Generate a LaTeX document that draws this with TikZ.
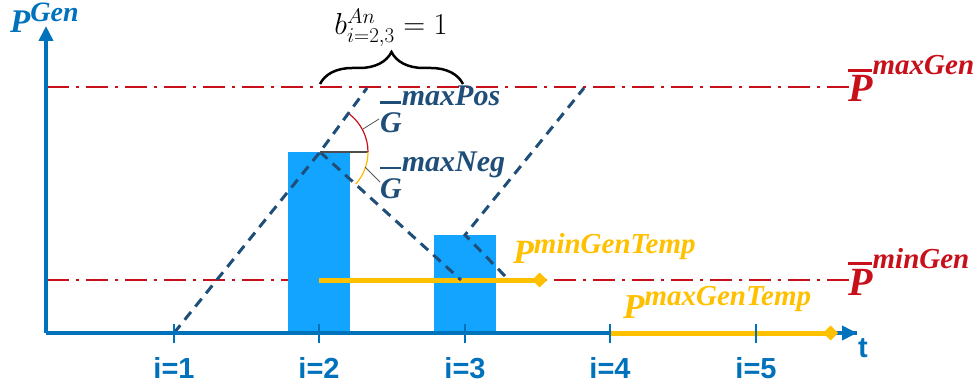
\documentclass[tikz,border=0pt]{standalone}
\usepackage{graphicx}
\usepackage[no-math]{fontspec}
\setmainfont{Liberation Sans}
\newfontfamily\labfont{Liberation Serif}
\usetikzlibrary{arrows.meta,decorations.pathreplacing}
\definecolor{axisblue}{RGB}{0,114,188}
\definecolor{barblue}{RGB}{18,164,255}
\definecolor{navy}{RGB}{31,78,121}
\definecolor{lred}{RGB}{200,16,26}
\definecolor{lyellow}{RGB}{255,192,0}
\newcommand{\fsz}[1]{\fontsize{#1}{#1}\selectfont}
\begin{document}
\begin{tikzpicture}[x=1pt,y=-1pt,
  axis/.style={axisblue,line width=4pt},
  ticks/.style={axisblue,line width=2pt},
  ilabel/.style={axisblue,anchor=base,font=\fsz{29}\bfseries,inner sep=0pt},
  limit/.style={lred,line width=2.5pt,dash pattern=on 22pt off 7pt on 3pt off 7pt},
  ramp/.style={navy,line width=3pt,dash pattern=on 10pt off 7pt},
  barbox/.style={fill=barblue,draw=none},
  temp/.style={lyellow,line width=5pt,-{Turned Square[width=15pt,length=15pt]}},
  leader/.style={black!65,line width=0.8pt},
  mlabel/.style={anchor=base west,inner sep=0pt,font=\labfont\bfseries\itshape}]
\useasboundingbox (0,0) rectangle (980,385);

% coordinates
\coordinate (O) at (46,333);
\coordinate (Ytop) at (46,26);
\coordinate (Xend) at (857,333);
\foreach \n/\x in {1/174,2/319,3/465,4/610,5/756}{
  \coordinate (t\n) at (\x,333);
  \coordinate (ta\n) at (\x,324);
  \coordinate (tb\n) at (\x,343);
}
\coordinate (maxA) at (47,87);
\coordinate (maxB) at (849,87);
\coordinate (minA) at (47,280);
\coordinate (minB) at (849,280);

% limit lines
\draw[limit] (maxA) -- (maxB);
\draw[limit] (minA) -- (minB);

% bars
\fill[barbox] (288,333) rectangle (350,152) coordinate (bar1);
\fill[barbox] (434,333) rectangle (496,235) coordinate (bar2);

% yellow temp lines
\coordinate (y1a) at (319,280);
\coordinate (y1b) at (547,280);
\coordinate (y2a) at (610,333);
\coordinate (y2b) at (838,333);
\draw[temp] (y1a) -- (y1b);

% ramps
\coordinate (r1a) at (174,333);
\coordinate (pk1) at (320,152);
\coordinate (r1b) at (367,88);
\coordinate (r2b) at (461,280);
\coordinate (pk2) at (465,235);
\coordinate (r3a) at (505,276);
\coordinate (r3b) at (584,88);
\draw[ramp] (r1a) -- (pk1) -- (r1b);
\draw[ramp] (pk1) -- (r2b);
\draw[ramp] (r3a) -- (pk2) -- (r3b);

% angle arcs
\coordinate (arcE) at (368,152);
\draw[black!70,line width=1.5pt] (pk1) -- (arcE);
\draw[lred,line width=1.2pt] (arcE) arc[start angle=0,end angle=-52,radius=48];
\draw[lyellow!90!orange,line width=1.2pt] (arcE) arc[start angle=0,end angle=42,radius=48];
\coordinate (l1a) at (363,129); \coordinate (l1b) at (379,119);
\coordinate (l2a) at (365,167); \coordinate (l2b) at (380,182);
\draw[leader] (l1a) -- (l1b);
\draw[leader] (l2a) -- (l2b);

% axes
\draw[axis] (O) -- (Xend);
\draw[axis,-{Triangle[length=15pt,width=14pt]}] (O) -- (Ytop);
\draw[axis,-{Triangle[length=15pt,width=14pt]}] (O) -- (Xend);
\draw[temp] (y2a) -- (y2b);
\foreach \n in {1,...,5}{
  \draw[ticks] (ta\n) -- (tb\n);
}
\foreach \n/\x in {1/174,2/319,3/465,4/610,5/756}{
  \node[ilabel] (il\n) at (\x,378) {i=\n};
}
\node[ilabel] (tl) at (863,357) {t};

% brace
\coordinate (brA) at (320,84);
\coordinate (brB) at (463,84);
\draw[black,line width=2.5pt,decorate,decoration={brace,amplitude=32pt}] (brA) -- (brB);
\node[anchor=base,inner sep=0pt] (blabel) at (391,35) {\scalebox{1.22}{\fsz{24}$b^{An}_{i=2,3}=1$}};

% labels
\node[mlabel,axisblue] (pgen) at (10,33) {\fsz{33}P\raisebox{11pt}{\fsz{28}Gen}};
\node[mlabel,navy] (gpos) at (380,133) {\fsz{30}\rlap{\rule[29pt]{21pt}{2.5pt}}G\raisebox{27pt}{maxPos}};
\node[mlabel,navy] (gneg) at (380,198) {\fsz{30}\rlap{\rule[29pt]{21pt}{2.5pt}}G\raisebox{27pt}{maxNeg}};
\node[mlabel,lred] (pmax) at (848,102) {\fsz{40}\rlap{\rule[30pt]{24pt}{3pt}}P\raisebox{27pt}{\fsz{29}maxGen}};
\node[mlabel,lred] (pmin) at (848,295) {\fsz{40}\rlap{\rule[30pt]{24pt}{3pt}}P\raisebox{27pt}{\fsz{29}minGen}};
\node[mlabel,lyellow] (pmint) at (513,263) {\fsz{34}P\raisebox{10pt}{\fsz{29}minGenTemp}};
\node[mlabel,lyellow] (pmaxt) at (623,318) {\fsz{35}P\raisebox{13pt}{\fsz{29}maxGenTemp}};
\end{tikzpicture}
\end{document}
